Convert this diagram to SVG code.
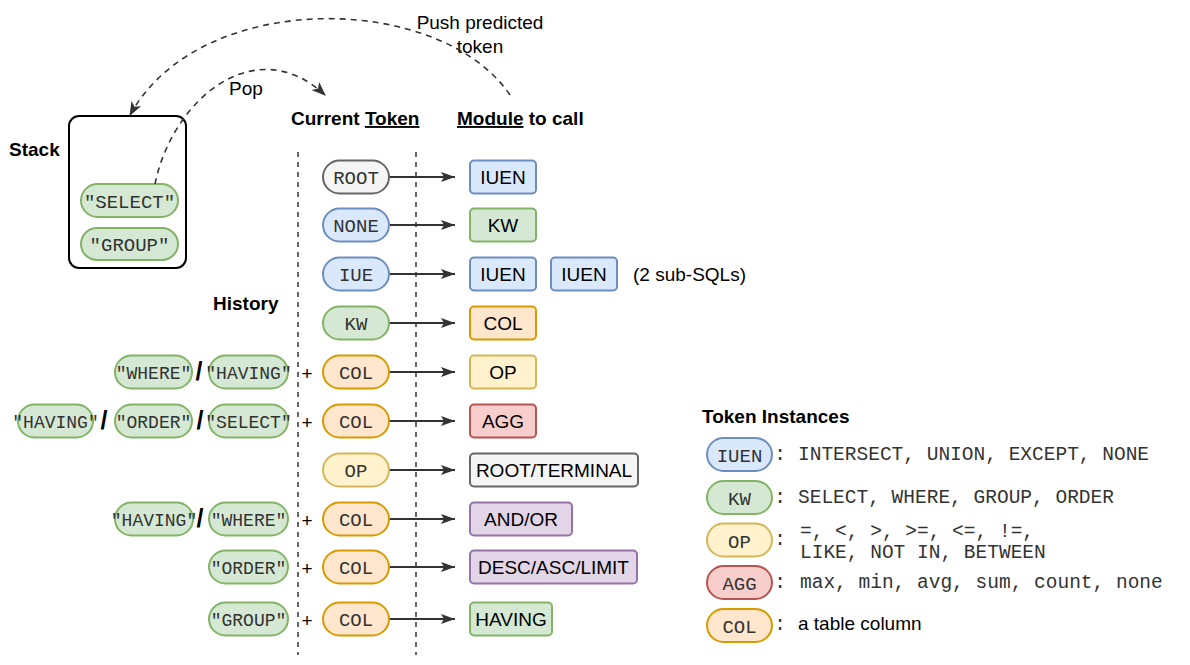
<svg xmlns="http://www.w3.org/2000/svg" width="1190" height="665" viewBox="0 0 1190 665">
<defs>
<style>
.sans{font-family:"Liberation Sans",Arial,sans-serif;font-size:19px;fill:#000}
.b{font-weight:bold}
.mid{text-anchor:middle}
.mono{font-family:"Liberation Mono","Courier New",monospace;font-size:19px;fill:#333}
.hm{font-size:18px}
.lg{font-size:19.5px}
.sl{font-family:"Liberation Sans",Arial,sans-serif;font-size:25px;font-weight:bold;fill:#000;text-anchor:middle}
rect.n{stroke-width:2}
.gray{fill:#f5f5f5;stroke:#666666}
.blue{fill:#dae8fc;stroke:#6c8ebf}
.green{fill:#d5e8d4;stroke:#82b366}
.orange{fill:#ffe6cc;stroke:#d79b00}
.yellow{fill:#fff2cc;stroke:#d6b656}
.red{fill:#f8cecc;stroke:#b85450}
.purple{fill:#e1d5e7;stroke:#9673a6}
.edge{stroke:#333;stroke-width:1.8;fill:none}
.dash{stroke:#333;stroke-width:1.6;fill:none;stroke-dasharray:6 5}
.vdash{stroke:#333;stroke-width:1.5;fill:none;stroke-dasharray:5 5}
</style>
<marker id="ah" viewBox="0 0 14 10" refX="14" refY="5" markerWidth="14" markerHeight="10" markerUnits="userSpaceOnUse" orient="auto"><path d="M0,0 L14,5 L0,10 L3,5 Z" fill="#333"/></marker>
<marker id="ah2" viewBox="0 0 14 11" refX="13" refY="5.5" markerWidth="14" markerHeight="11" markerUnits="userSpaceOnUse" orient="auto"><path d="M0,0 L14,5.5 L0,11 L3.5,5.5 Z" fill="#333"/></marker>
</defs>
<rect x="0" y="0" width="1190" height="665" fill="#fff"/>

<!-- labels -->
<g id="labels">
<text class="sans b" x="9" y="156">Stack</text>
<text class="sans b" x="291" y="125">Current <tspan text-decoration="underline">Token</tspan></text>
<text class="sans b" x="457" y="125"><tspan text-decoration="underline">Module</tspan> to call</text>
<text class="sans b" x="213" y="310">History</text>
<text class="sans b" x="702" y="423">Token Instances</text>
<text class="sans mid" x="480" y="29">Push predicted</text>
<text class="sans mid" x="480" y="53">token</text>
<text class="sans mid" x="246" y="95">Pop</text>
<text class="sans" x="633" y="281">(2 sub-SQLs)</text>
</g>

<!-- dashed column separators -->
<g id="separators">
<line class="vdash" x1="298" y1="152" x2="298" y2="655"/>
<line class="vdash" x1="416" y1="152" x2="416" y2="655"/>
</g>

<!-- stack -->
<g id="stack">
<rect x="69" y="116" width="117" height="152" rx="10" fill="#fff" stroke="#000" stroke-width="2"/>
</g>
<g id="stack-select">
<rect class="n green" x="81" y="184" width="97" height="33" rx="16.5"/>
<text class="mono mid" x="129.5" y="207.5" font-size="20">"SELECT"</text>
</g>
<g id="stack-group">
<rect class="n green" x="81" y="228" width="97" height="32" rx="16"/>
<text class="mono mid" x="129.5" y="251" font-size="20">"GROUP"</text>
</g>

<!-- connectors -->
<g id="connectors">
<path class="dash" d="M155,184 C172,100 255,30 325,95" marker-end="url(#ah2)"/>
<path class="dash" d="M510,95 C440,-8 200,-12 130,115" marker-end="url(#ah2)"/>
<line class="edge" x1="389" y1="177" x2="455" y2="177" marker-end="url(#ah)"/>
<line class="edge" x1="389" y1="225" x2="455" y2="225" marker-end="url(#ah)"/>
<line class="edge" x1="389" y1="274" x2="455" y2="274" marker-end="url(#ah)"/>
<line class="edge" x1="389" y1="323" x2="455" y2="323" marker-end="url(#ah)"/>
<line class="edge" x1="389" y1="372" x2="455" y2="372" marker-end="url(#ah)"/>
<line class="edge" x1="389" y1="421" x2="455" y2="421" marker-end="url(#ah)"/>
<line class="edge" x1="389" y1="470" x2="455" y2="470" marker-end="url(#ah)"/>
<line class="edge" x1="389" y1="519" x2="455" y2="519" marker-end="url(#ah)"/>
<line class="edge" x1="389" y1="567" x2="455" y2="567" marker-end="url(#ah)"/>
<line class="edge" x1="389" y1="619" x2="455" y2="619" marker-end="url(#ah)"/>
</g>

<!-- current tokens -->
<g id="tok-root"><rect class="n gray" x="323" y="160.5" width="66" height="33" rx="16.5"/><text class="mono mid" x="356" y="184">ROOT</text></g>
<g id="tok-none"><rect class="n blue" x="323" y="208.5" width="66" height="33" rx="16.5"/><text class="mono mid" x="356" y="232">NONE</text></g>
<g id="tok-iue"><rect class="n blue" x="323" y="257.5" width="66" height="33" rx="16.5"/><text class="mono mid" x="356" y="281">IUE</text></g>
<g id="tok-kw"><rect class="n green" x="323" y="306.5" width="66" height="33" rx="16.5"/><text class="mono mid" x="356" y="330">KW</text></g>
<g id="tok-col1"><rect class="n orange" x="323" y="355.5" width="66" height="33" rx="16.5"/><text class="mono mid" x="356" y="379">COL</text></g>
<g id="tok-col2"><rect class="n orange" x="323" y="404.5" width="66" height="33" rx="16.5"/><text class="mono mid" x="356" y="428">COL</text></g>
<g id="tok-op"><rect class="n yellow" x="323" y="453.5" width="66" height="33" rx="16.5"/><text class="mono mid" x="356" y="477">OP</text></g>
<g id="tok-col3"><rect class="n orange" x="323" y="502.5" width="66" height="33" rx="16.5"/><text class="mono mid" x="356" y="526">COL</text></g>
<g id="tok-col4"><rect class="n orange" x="323" y="550.5" width="66" height="33" rx="16.5"/><text class="mono mid" x="356" y="574">COL</text></g>
<g id="tok-col5"><rect class="n orange" x="323" y="602.5" width="66" height="33" rx="16.5"/><text class="mono mid" x="356" y="626">COL</text></g>

<!-- modules -->
<g id="mod-iuen1"><rect class="n blue" x="470" y="160.5" width="66" height="33" rx="4"/><text class="sans mid" x="503" y="184">IUEN</text></g>
<g id="mod-kw"><rect class="n green" x="470" y="208.5" width="66" height="33" rx="4"/><text class="sans mid" x="503" y="232">KW</text></g>
<g id="mod-iuen2"><rect class="n blue" x="470" y="257.5" width="66" height="33" rx="4"/><text class="sans mid" x="503" y="281">IUEN</text></g>
<g id="mod-iuen3"><rect class="n blue" x="551" y="257.5" width="66" height="33" rx="4"/><text class="sans mid" x="584" y="281">IUEN</text></g>
<g id="mod-col"><rect class="n orange" x="470" y="306.5" width="66" height="33" rx="4"/><text class="sans mid" x="503" y="330">COL</text></g>
<g id="mod-op"><rect class="n yellow" x="470" y="355.5" width="66" height="33" rx="4"/><text class="sans mid" x="503" y="379">OP</text></g>
<g id="mod-agg"><rect class="n red" x="470" y="404.5" width="66" height="33" rx="4"/><text class="sans mid" x="503" y="428">AGG</text></g>
<g id="mod-rootterm"><rect class="n gray" x="470" y="453.5" width="168" height="33" rx="4"/><text class="sans mid" x="554" y="477">ROOT/TERMINAL</text></g>
<g id="mod-andor"><rect class="n purple" x="470" y="502.5" width="102" height="33" rx="4"/><text class="sans mid" x="521" y="526">AND/OR</text></g>
<g id="mod-desc"><rect class="n purple" x="470" y="550.5" width="167" height="33" rx="4"/><text class="sans mid" x="553.5" y="574">DESC/ASC/LIMIT</text></g>
<g id="mod-having"><rect class="n green" x="470" y="602.5" width="82" height="33" rx="4"/><text class="sans mid" x="511" y="626">HAVING</text></g>

<!-- history -->
<g id="hist-r5">
<rect class="n green" x="115" y="355.5" width="77" height="33" rx="16.5"/><text class="mono hm mid" x="153.5" y="378.5">"WHERE"</text>
<text class="sl" x="199" y="380">/</text>
<rect class="n green" x="209" y="355.5" width="79" height="33" rx="16.5"/><text class="mono hm mid" x="248.5" y="378.5">"HAVING"</text>
<text class="sans mid" x="307" y="380">+</text>
</g>
<g id="hist-r6">
<rect class="n green" x="18" y="404.5" width="75" height="33" rx="16.5"/><text class="mono hm mid" x="55.5" y="427.5">"HAVING"</text>
<text class="sl" x="104" y="429">/</text>
<rect class="n green" x="115" y="404.5" width="77" height="33" rx="16.5"/><text class="mono hm mid" x="153.5" y="427.5">"ORDER"</text>
<text class="sl" x="200" y="429">/</text>
<rect class="n green" x="209" y="404.5" width="79" height="33" rx="16.5"/><text class="mono hm mid" x="248.5" y="427.5">"SELECT"</text>
<text class="sans mid" x="307" y="429">+</text>
</g>
<g id="hist-r8">
<rect class="n green" x="115" y="502.5" width="78" height="33" rx="16.5"/><text class="mono hm mid" x="154" y="525.5">"HAVING"</text>
<text class="sl" x="200" y="527">/</text>
<rect class="n green" x="209" y="502.5" width="79" height="33" rx="16.5"/><text class="mono hm mid" x="248.5" y="525.5">"WHERE"</text>
<text class="sans mid" x="307" y="527">+</text>
</g>
<g id="hist-r9">
<rect class="n green" x="209" y="550.5" width="79" height="33" rx="16.5"/><text class="mono hm mid" x="248.5" y="573.5">"ORDER"</text>
<text class="sans mid" x="307" y="575">+</text>
</g>
<g id="hist-r10">
<rect class="n green" x="209" y="602.5" width="79" height="33" rx="16.5"/><text class="mono hm mid" x="248.5" y="625.5">"GROUP"</text>
<text class="sans mid" x="307" y="627">+</text>
</g>

<!-- legend -->
<g id="leg-iuen"><rect class="n blue" x="707" y="438" width="65" height="33" rx="16.5"/><text class="mono mid" x="739.5" y="462">IUEN</text>
<text class="mono lg mid" x="780" y="460">:</text><text class="mono lg" x="798" y="460">INTERSECT, UNION, EXCEPT, NONE</text></g>
<g id="leg-kw"><rect class="n green" x="707" y="481" width="65" height="33" rx="16.5"/><text class="mono mid" x="739.5" y="505">KW</text>
<text class="mono lg mid" x="780" y="503">:</text><text class="mono lg" x="798" y="503">SELECT, WHERE, GROUP, ORDER</text></g>
<g id="leg-op"><rect class="n yellow" x="707" y="523.5" width="65" height="33" rx="16.5"/><text class="mono mid" x="739.5" y="547.5">OP</text>
<text class="mono lg mid" x="780" y="545">:</text><text class="mono lg" x="800" y="537">=, &lt;, &gt;, &gt;=, &lt;=, !=,</text><text class="mono lg" x="800" y="558">LIKE, NOT IN, BETWEEN</text></g>
<g id="leg-agg"><rect class="n red" x="707" y="566" width="65" height="33" rx="16.5"/><text class="mono mid" x="739.5" y="590">AGG</text>
<text class="mono lg mid" x="780" y="588">:</text><text class="mono lg" x="800" y="588">max, min, avg, sum, count, none</text></g>
<g id="leg-col"><rect class="n orange" x="707" y="609" width="65" height="33" rx="16.5"/><text class="mono mid" x="739.5" y="633">COL</text>
<text class="mono lg mid" x="780" y="630">:</text><text class="sans" x="798" y="630">a table column</text></g>
</svg>
